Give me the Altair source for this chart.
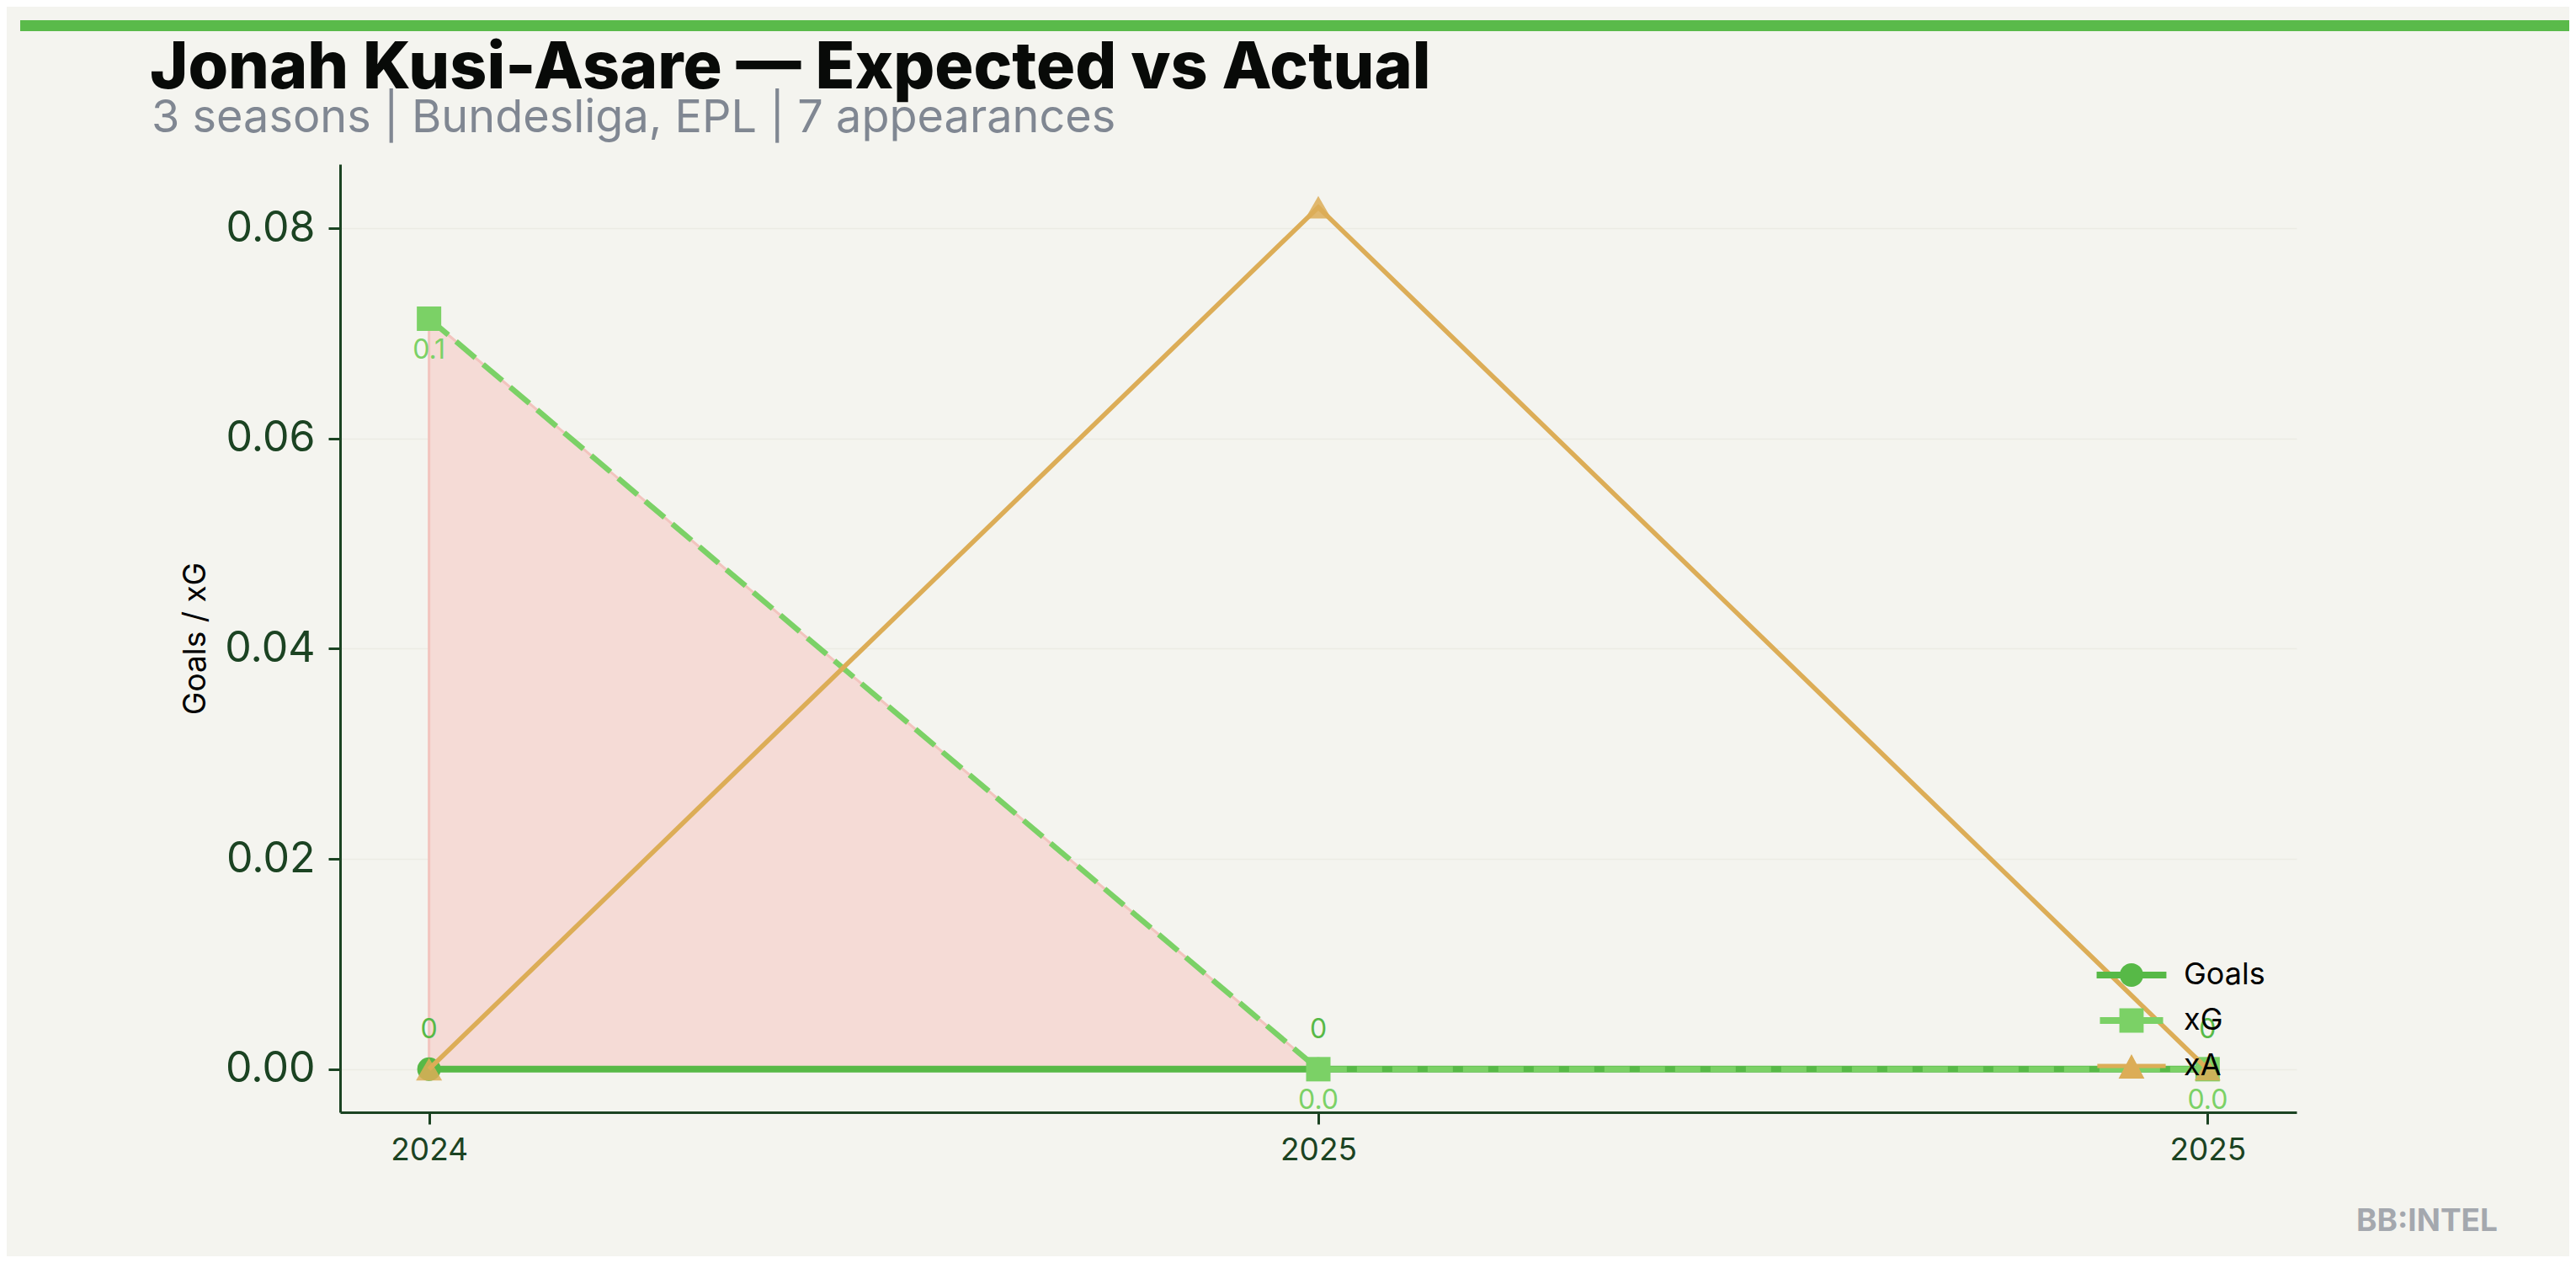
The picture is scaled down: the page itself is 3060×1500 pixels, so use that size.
import altair as alt
import pandas as pd

# ---- data ----
season_idx = [0, 1, 2]
season_labels = ["2024", "2025", "2025"]
goals = [0, 0, 0]
xg = [0.0714, 0.0, 0.0]
xa = [0.0, 0.082, 0.0]
series_names = ["Goals", "xG", "xA"]
series_colors = ["#57b947", "#7bd166", "#dcad57"]
y_ticks = [0.0, 0.02, 0.04, 0.06, 0.08]

title_text = "Jonah Kusi-Asare \u2014 Expected vs Actual"
subtitle_text = "3 seasons | Bundesliga, EPL | 7 appearances"
y_title = "Goals / xG"
footer_text = "BB:INTEL"

wide = pd.DataFrame({"idx": season_idx, "season": season_labels,
                     "Goals": goals, "xG": xg, "xA": xa})
long = wide.melt(id_vars=["idx", "season"], value_vars=series_names,
                 var_name="series", value_name="value")

# ---- layout ----
W, H = 2324, 1126
PAD = {"left": 396, "top": 187, "right": 324, "bottom": 171}
AX = "#1b4322"
BG = "#f4f4ef"

x_scale = alt.Scale(domain=[-0.1, 2.1], nice=False, zero=False)
y_scale = alt.Scale(domain=[-0.0041, 0.0861], nice=False, zero=False)
label_expr = "[" + ",".join("'%s'" % s for s in season_labels) + "][datum.value]"
x_axis = alt.Axis(values=season_idx, labelExpr=label_expr, title=None, grid=False)
y_axis = alt.Axis(values=y_ticks, format=".2f", title=y_title, grid=True,
                  titleX=-161, titleY=H / 2, titleAngle=270,
                  titleBaseline="alphabetic", titleAlign="center")


def X():
    return alt.X("idx:Q", scale=x_scale, axis=x_axis)


def Y(field):
    return alt.Y(field, scale=y_scale, axis=y_axis)


area = alt.Chart(wide).mark_area(color="#f5dbd6", stroke="#f2c4be",
                                 strokeWidth=3, opacity=1).encode(
    x=X(), y=Y("xG:Q"), y2="Goals:Q")

goals_line = alt.Chart(wide).mark_line(color=series_colors[0], strokeWidth=8).encode(
    x=X(), y=Y("Goals:Q"))
goals_pts = alt.Chart(wide).mark_point(shape="circle", filled=True, size=784,
                                       color=series_colors[0], opacity=1).encode(
    x=X(), y=Y("Goals:Q"))
xg_line = alt.Chart(wide).mark_line(color=series_colors[1], strokeWidth=6.5,
                                    strokeDash=[30, 12]).encode(x=X(), y=Y("xG:Q"))
xg_pts = alt.Chart(wide).mark_point(shape="square", filled=True, size=841,
                                    color=series_colors[1], opacity=1).encode(
    x=X(), y=Y("xG:Q"))
xa_line = alt.Chart(wide).mark_line(color=series_colors[2], strokeWidth=5.5).encode(
    x=X(), y=Y("xA:Q"))
xa_pts = alt.Chart(wide).mark_point(shape="triangle-up", filled=True, size=961,
                                    color=series_colors[2], opacity=0.85).encode(
    x=X(), y=Y("xA:Q"))

goals_lbl = alt.Chart(wide).mark_text(dy=-47, color=series_colors[0], font="Inter",
                                      fontSize=32).encode(
    x=X(), y=Y("Goals:Q"), text=alt.Text("Goals:Q", format="d"))
xg_lbl = alt.Chart(wide).mark_text(dy=37, color=series_colors[1], font="Inter",
                                   fontSize=32).encode(
    x=X(), y=Y("xG:Q"), text=alt.Text("xG:Q", format=".1f"))

# legend (symbols: line + marker drawn as custom paths)
legend_paths = [
    "M-2.96,-0.29L2.96,-0.29L2.96,0.29L-2.96,0.29ZM1,0A1,1,0,1,1,-1,0A1,1,0,1,1,1,0Z",
    "M-2.68,-0.28L2.68,-0.28L2.68,0.28L-2.68,0.28ZM-1.03,-1.03L1.03,-1.03L1.03,1.03L-1.03,1.03Z",
    "M-2.9,-0.18L2.9,-0.18L2.9,0.18L-2.9,0.18ZM0,-1L1.1,1.07L-1.1,1.07Z",
]
leg = alt.Legend(title=None)
legend_layer = alt.Chart(long).mark_point(filled=True, opacity=0).encode(
    x=X(), y=Y("value:Q"),
    color=alt.Color("series:N", scale=alt.Scale(domain=series_names, range=series_colors),
                    legend=leg, sort=series_names),
    shape=alt.Shape("series:N", scale=alt.Scale(domain=series_names, range=legend_paths),
                    legend=leg, sort=series_names),
)

# decorations
bar = alt.Chart(pd.DataFrame({"k": [0]})).mark_rule(color="#5aba4a", strokeWidth=13).encode(
    x=alt.value(-380), x2=alt.value(W + PAD["right"] + 20), y=alt.value(-164.5))
title = alt.Chart(pd.DataFrame({"t": [title_text]})).mark_text(
    align="left", baseline="alphabetic", font="Inter", fontWeight=800, fontSize=77,
    color="#080a08").encode(text="t:N", x=alt.value(-226), y=alt.value(-90))
subtitle = alt.Chart(pd.DataFrame({"t": [subtitle_text]})).mark_text(
    align="left", baseline="alphabetic", font="Inter", fontSize=54,
    color="#808792").encode(text="t:N", x=alt.value(-224), y=alt.value(-38))
footer = alt.Chart(pd.DataFrame({"t": [footer_text]})).mark_text(
    align="right", baseline="alphabetic", font="Inter", fontWeight="bold", fontSize=37,
    color="#a4a8ae").encode(text="t:N", x=alt.value(2563), y=alt.value(1267))

chart = alt.layer(
    area, goals_line, goals_pts, xg_line, xg_pts, xa_line, xa_pts,
    goals_lbl, xg_lbl, legend_layer, bar, title, subtitle, footer
).properties(
    width=W, height=H,
    autosize=alt.AutoSizeParams(type="none"),
    padding=PAD, background=BG,
).configure_view(stroke=None).configure_axis(
    domainColor=AX, domainWidth=3, tickColor=AX, tickWidth=3, tickSize=14,
    labelColor=AX, labelFont="Inter", gridColor="#ebebe4", gridWidth=1.5,
).configure_axisX(labelFontSize=37, labelPadding=13).configure_axisY(
    labelFontSize=50, labelPadding=16, titleFontSize=37, titleColor="#000000",
    titleFont="Inter", titleFontWeight="normal",
).configure_legend(
    orient="none", legendX=2110, legendY=945, padding=0, labelFont="Inter",
    labelFontSize=36, labelColor="#000000", symbolSize=784, labelOffset=44,
    rowPadding=18, symbolStrokeWidth=0, symbolOpacity=1,
)

chart.save("out.html", embed_options={"renderer": "svg", "actions": False})
